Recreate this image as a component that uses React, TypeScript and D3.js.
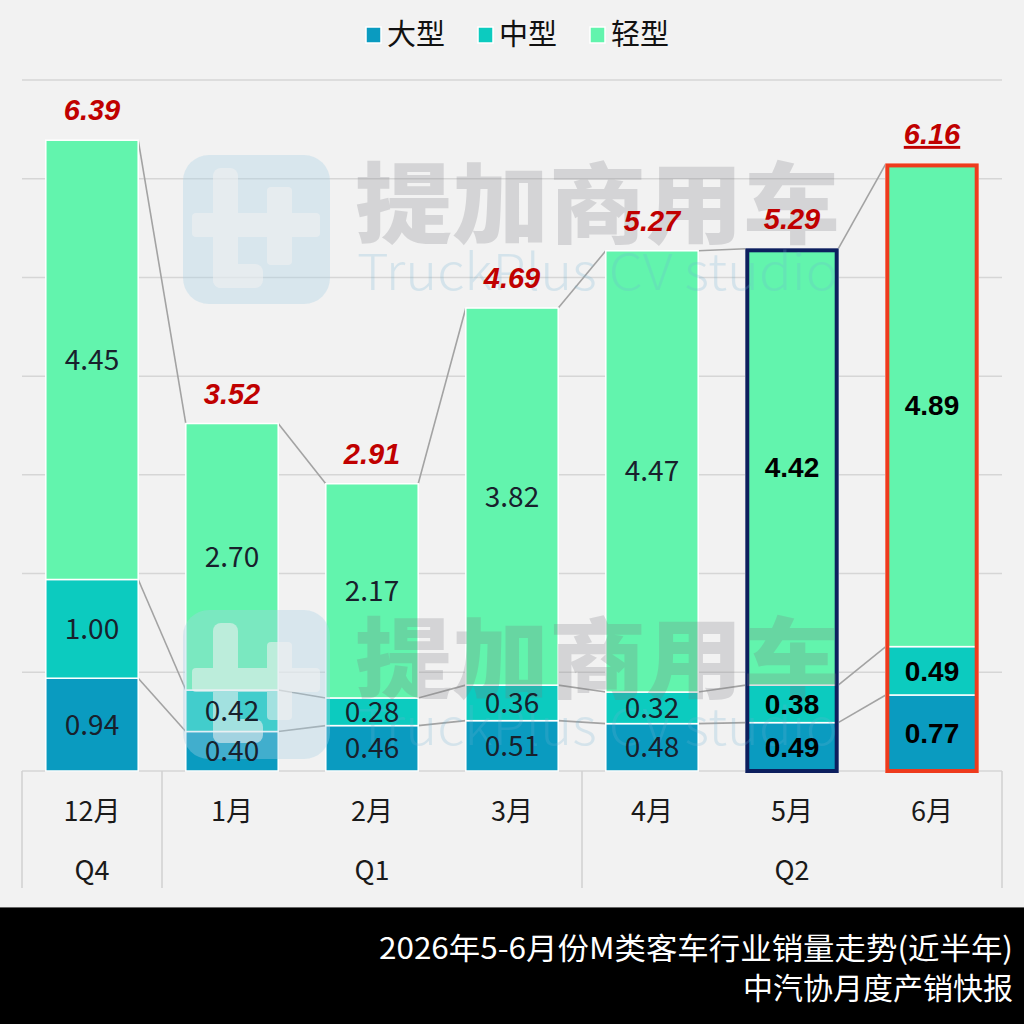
import React from 'react';
import * as d3 from 'd3';

const months = ['12月', '1月', '2月', '3月', '4月', '5月', '6月'];
const large = [0.94, 0.40, 0.46, 0.51, 0.48, 0.49, 0.77];
const medium = [1.00, 0.42, 0.28, 0.36, 0.32, 0.38, 0.49];
const light = [4.45, 2.70, 2.17, 3.82, 4.47, 4.42, 4.89];
const totals = [6.39, 3.52, 2.91, 4.69, 5.27, 5.29, 6.16];
const quarterLabels = ['Q4', 'Q1', 'Q2'];
const quarterSpans = [1, 3, 3];
const seriesNames = ['大型', '中型', '轻型'];
const yTicks = [0, 1, 2, 3, 4, 5, 6, 7];

const colors = ['#0a9bc0', '#0ccbbf', '#62f4ad'];
const W = 1024, H = 1024;
const plot = { left: 22, right: 1002, top: 80, bottom: 771 };
const cjk = '"Noto Sans CJK SC", "Noto Sans", sans-serif';
const arial = '"Liberation Sans", Arial, sans-serif';

export default function App() {
  const x = d3.scaleBand<string>().domain(months).range([plot.left, plot.right])
    .paddingInner(0.34).paddingOuter(0.17);
  const y = d3.scaleLinear().domain([0, 7]).range([plot.bottom, plot.top]);
  const bw = x.bandwidth();
  const step = x.step();

  const rows = months.map((m, i) => ({ m, large: large[i], medium: medium[i], light: light[i] }));
  const stack = d3.stack<any>().keys(['large', 'medium', 'light'])(rows);

  // separator positions of quarter groups
  const seps = [0];
  quarterSpans.forEach(s => seps.push(seps[seps.length - 1] + s));

  const highlight: Record<number, string> = { 5: '#0d1f5e', 6: '#ee3b1d' };

  const watermark = (dy: number) => (
    <g transform={`translate(0,${dy})`} pointerEvents="none">
      <rect x={183} y={155} width={147} height={149} rx={26} fill="#a9d2e6" opacity={0.35} />
      <g fill="#f2f2f2" opacity={0.55}>
        <rect x={213} y={168} width={25} height={120} rx={8} />
        <rect x={213} y={264} width={50} height={24} rx={8} />
        <rect x={192} y={213} width={128} height={24} rx={4} />
        <rect x={267} y={187} width={25} height={78} rx={4} />
      </g>
      <text x={355} y={236} fontFamily={cjk} fontWeight={900} fontSize={88}
        textLength={485} lengthAdjust="spacingAndGlyphs" fill="#7a7a80" opacity={0.24}>提加商用车</text>
      <text x={357} y={290} fontFamily={cjk} fontWeight={300} fontSize={50}
        textLength={481} lengthAdjust="spacingAndGlyphs" fill="#6fb3d3" opacity={0.22}>TruckPlus CV studio</text>
    </g>
  );

  return (
    <svg width={W} height={H} style={{ position: 'absolute', left: 0, top: 0, display: 'block' }}>
      <rect width={W} height={H} fill="#f2f2f2" />

      {/* legend */}
      <g>
        {seriesNames.map((n, i) => {
          const lx = 366 + i * 112;
          return (
            <g key={n}>
              <rect x={lx} y={27} width={15} height={16} fill={colors[i]} stroke="#fff" strokeWidth={1.5} />
              <text x={lx + 21} y={45} fontFamily={cjk} fontSize={29} fill="#111">{n}</text>
            </g>
          );
        })}
      </g>

      {/* gridlines */}
      {yTicks.map(t => (
        <line key={t} x1={plot.left} x2={plot.right} y1={y(t)} y2={y(t)}
          stroke="#d6d6d6" strokeWidth={1.5} />
      ))}

      {/* connectors */}
      {stack.map((layer, li) => (
        <g key={'c' + li}>
          {months.slice(0, -1).map((m, i) => (
            <line key={m}
              x1={x(m)! + bw} y1={y(layer[i][1])}
              x2={x(months[i + 1])!} y2={y(layer[i + 1][1])}
              stroke="#a3a3a3" strokeWidth={1.6} />
          ))}
        </g>
      ))}

      {/* bars */}
      {stack.map((layer, li) => (
        <g key={'s' + li} fill={colors[li]}>
          {layer.map((d, i) => (
            <rect key={i} x={x(months[i])} y={y(d[1])} width={bw} height={y(d[0]) - y(d[1])}
              stroke="#fff" strokeWidth={1.5} />
          ))}
        </g>
      ))}

      {Object.keys(highlight).map(k => {
        const i = +k;
        const top = stack[2][i][1];
        return (
          <rect key={'h' + k} x={x(months[i])! + 1.5} y={y(top) + 1.5} width={bw - 3}
            height={y(0) - y(top) - 1.5} fill="none" stroke={highlight[i]} strokeWidth={4} />
        );
      })}

      {watermark(0)}
      {watermark(455)}

      {/* segment labels */}
      {stack.map((layer, li) => (
        <g key={'l' + li}>
          {layer.map((d, i) => {
            const bold = i >= 5;
            const v = [large, medium, light][li][i];
            return (
              <text key={i} x={x(months[i])! + bw / 2} y={(y(d[0]) + y(d[1])) / 2}
                dy="0.36em" textAnchor="middle"
                fontFamily={bold ? arial : cjk} fontWeight={bold ? 700 : 400}
                fontSize={28} fill={bold ? '#000' : '#18202c'}>
                {v.toFixed(2)}
              </text>
            );
          })}
        </g>
      ))}

      {/* totals */}
      {totals.map((t, i) => (
        <text key={'t' + i} x={x(months[i])! + bw / 2} y={y(stack[2][i][1]) - 20}
          textAnchor="middle" fontFamily={arial} fontWeight={700} fontStyle="italic"
          fontSize={29} fill="#c00000"
          textDecoration={i === 6 ? 'underline' : undefined}>
          {t.toFixed(2)}
        </text>
      ))}

      {/* category axis */}
      {seps.map(s => (
        <line key={'v' + s} x1={plot.left + s * step} x2={plot.left + s * step}
          y1={plot.bottom} y2={888} stroke="#d0d0d0" strokeWidth={1.5} />
      ))}
      {months.map(m => (
        <text key={'m' + m} x={x(m)! + bw / 2} y={821} textAnchor="middle"
          fontFamily={cjk} fontSize={27} fill="#1a1a1a">{m}</text>
      ))}
      {quarterLabels.map((q, i) => {
        const cx = plot.left + (seps[i] + seps[i + 1]) / 2 * step;
        return (
          <text key={q} x={cx} y={880} textAnchor="middle" fontFamily={cjk}
            fontSize={27} fill="#1a1a1a">{q}</text>
        );
      })}

      {/* footer */}
      <rect x={0} y={907} width={W} height={H - 907} fill="#000" />
      <line x1={0} x2={W} y1={907.5} y2={907.5} stroke="#666" strokeWidth={1} />
      <text x={1013} y={959} textAnchor="end" fontFamily={cjk} fontSize={30} fill="#fff"
        textLength={634} lengthAdjust="spacingAndGlyphs">2026年5-6月份M类客车行业销量走势(近半年)</text>
      <text x={1013} y={999} textAnchor="end" fontFamily={cjk} fontSize={30} fill="#fff">中汽协月度产销快报</text>
    </svg>
  );
}
